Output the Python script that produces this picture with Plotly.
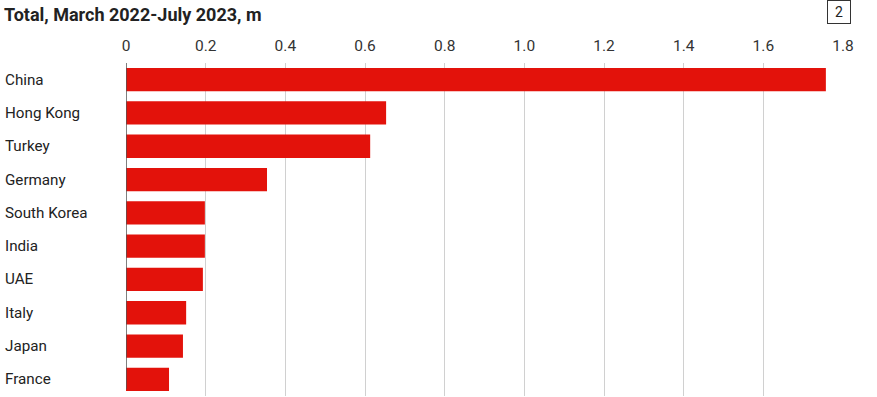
import plotly.graph_objects as go

countries = ["China", "Hong Kong", "Turkey", "Germany", "South Korea", "India", "UAE", "Italy", "Japan", "France"]
values = [1.757, 0.653, 0.613, 0.354, 0.198, 0.198, 0.193, 0.151, 0.143, 0.108]
tick_vals = [0, 0.2, 0.4, 0.6, 0.8, 1.0, 1.2, 1.4, 1.6, 1.8]
tick_text = ["0", "0.2", "0.4", "0.6", "0.8", "1.0", "1.2", "1.4", "1.6", "1.8"]

W, H = 877, 397
ml, mr, mt, mb = 126, 34, 63, 1
pw = W - ml - mr
ph = H - mt - mb

fig = go.Figure(go.Bar(
    x=values, y=countries, orientation="h",
    marker=dict(color="#e3120b", line=dict(width=0)),
    width=0.7,
))

fig.update_layout(
    width=W, height=H,
    margin=dict(l=ml, r=mr, t=mt, b=mb),
    plot_bgcolor="white", paper_bgcolor="white",
    showlegend=False,
    font=dict(family="Roboto, Liberation Sans, sans-serif", color="#333333"),
    xaxis=dict(
        range=[0, 1.8], side="top", tickvals=tick_vals, ticktext=tick_text,
        showgrid=True, gridcolor="#d0d0d0", gridwidth=1,
        zeroline=False, showline=False, ticks="",
        ticklabelstandoff=8,
        tickfont=dict(size=15.5, color="#333333"),
    ),
    yaxis=dict(
        categoryorder="array", categoryarray=countries, autorange="reversed",
        showticklabels=False, showgrid=False, zeroline=False, showline=False, ticks="",
    ),
)

fig.add_shape(type="line", xref="x", yref="paper", x0=0, x1=0, y0=0.02, y1=1,
              line=dict(color="#555555", width=1.5))

for c in countries:
    fig.add_annotation(text=c, x=-(ml - 3) / pw, xref="paper", y=c, yref="y",
                       xanchor="left", yanchor="middle", showarrow=False,
                       font=dict(size=15.2, color="#222222"))

fig.add_annotation(text="<b>Total, March 2022-July 2023, m</b>",
                   x=-(ml - 2) / pw, y=1 + (mt - 14) / ph,
                   xref="paper", yref="paper", xanchor="left", yanchor="middle",
                   showarrow=False, font=dict(size=18, color="#222222"))

fig.add_annotation(text="2", x=1 + (839 - (W - mr)) / pw, y=1 + (mt - 12) / ph,
                   xref="paper", yref="paper", xanchor="center", yanchor="middle",
                   showarrow=False, bordercolor="#333333", borderwidth=1, borderpad=2,
                   width=18, height=18,
                   font=dict(size=14, color="#222222"))

fig.write_html("out.html", config={"displayModeBar": False},
               post_script="document.body.style.margin='0';")
